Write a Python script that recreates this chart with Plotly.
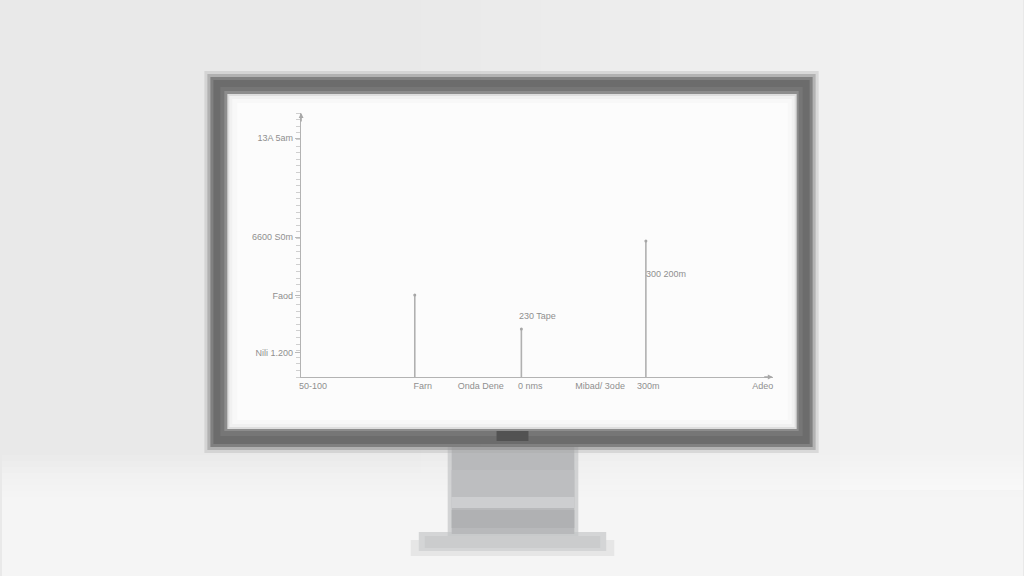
import plotly.graph_objects as go

# chart values
stem_x = [2.41, 4.67, 7.31]
stem_y = [31.1, 18.2, 51.5]

ytick_vals = [90.5, 53.0, 30.7, 9.1]
ytick_text = ["13A 5am", "6600 S0m", "Faod", "Nili 1.200"]

xtick_vals = [0.25, 2.58, 3.81, 4.86, 6.34, 7.36, 9.79]
xtick_text = ["50-100", "Farn", "Onda Dene", "0 nms", "Mibad/ 3ode", "300m", "Adeo"]

note_x = [5.01, 7.74]
note_y = [23.1, 39.0]
note_text = ["230 Tape", "300 200m"]

W, H = 1024, 576


def px_rect(x0, y0, x1, y1, color, opacity=1.0):
    # rectangle given in screen pixels, turned into paper fractions
    return dict(type="rect", xref="paper", yref="paper",
                x0=x0 / W, x1=x1 / W, y0=1 - y1 / H, y1=1 - y0 / H,
                fillcolor=color, opacity=opacity, line_width=0, layer="below")


shapes = []
# room background: soft steps lighter to the right, white floor
for i, x0 in enumerate(range(420, 1024, 60)):
    shapes.append(px_rect(x0, 0, 1024, 490, "#ffffff", 0.07))
for i, y0 in enumerate(range(455, 500, 6)):
    shapes.append(px_rect(0, y0, 1024, 576, "#ffffff", 0.12))

shapes += [
    # stand base + shadow
    px_rect(410, 540, 614, 556, "#e2e2e2", 0.8),
    px_rect(418, 532, 606, 551, "#d4d5d6"),
    px_rect(424, 536, 600, 548, "#cbcccd"),
    # stand neck
    px_rect(447, 446, 578, 536, "#c3c4c6", 0.7),
    px_rect(451, 446, 574, 534, "#b8b9bb"),
    px_rect(451, 470, 574, 497, "#bdbec0"),
    px_rect(451, 497, 574, 508, "#cdced0"),
    px_rect(451, 510, 574, 528, "#b0b1b3"),
    # bezel, soft edges
    px_rect(203, 71, 819, 453, "#a5a5a5", 0.3),
    px_rect(206, 74, 816, 450, "#8e8e8e", 0.5),
    px_rect(209, 77, 813, 447, "#787878", 0.85),
    px_rect(212, 80, 810, 444, "#6c6c6c"),
    px_rect(219, 87, 803, 436, "#767676"),
    px_rect(223, 91, 799, 431, "#8d8d8d"),
    # notch under the screen
    px_rect(496, 431, 528, 441, "#525252"),
    # screen
    px_rect(226, 94, 797, 429, "#dedede"),
    px_rect(228, 96, 795, 427, "#f1f1f1"),
    px_rect(231, 99, 792, 424, "#f8f8f8"),
    px_rect(236, 103, 788, 420, "#fcfcfc"),
]

# stems from the baseline up to each value
line_x, line_y = [], []
for sx, sy in zip(stem_x, stem_y):
    line_x += [sx, sx, None]
    line_y += [0, sy, None]

fig = go.Figure()
fig.add_trace(go.Scatter(x=line_x, y=line_y, mode="lines",
                         line=dict(color="#b0b0b0", width=1.6),
                         hoverinfo="skip", showlegend=False))
fig.add_trace(go.Scatter(x=stem_x, y=stem_y, mode="markers",
                         marker=dict(color="#a6a6a6", size=3),
                         hoverinfo="skip", showlegend=False))

font_col = "#8f8f8f"
tick_font = dict(family="Liberation Sans, Arial, sans-serif", size=9, color=font_col)

annotations = []
for nx, ny, nt in zip(note_x, note_y, note_text):
    annotations.append(dict(x=nx, y=ny, xref="x", yref="y", text=nt,
                            showarrow=False, font=tick_font))
# arrow heads at the ends of both axes
annotations.append(dict(x=0, y=100, xref="x", yref="y", ax=0, ay=10, text="",
                        showarrow=True, arrowhead=2, arrowsize=0.7,
                        arrowwidth=1.4, arrowcolor="#a8a8a8"))
annotations.append(dict(x=10, y=0, xref="x", yref="y", ax=-10, ay=0, text="",
                        showarrow=True, arrowhead=2, arrowsize=0.7,
                        arrowwidth=1.4, arrowcolor="#a8a8a8"))

fig.update_layout(
    width=W, height=H,
    margin=dict(l=0, r=0, t=0, b=0),
    paper_bgcolor="#e9e9e9",
    plot_bgcolor="rgba(0,0,0,0)",
    shapes=shapes,
    annotations=annotations,
    xaxis=dict(domain=[300 / W, 773 / W], range=[0, 10],
               showgrid=False, zeroline=False,
               showline=True, linecolor="#b3b3b3", linewidth=1.4,
               tickmode="array", tickvals=xtick_vals, ticktext=xtick_text,
               ticks="", tickfont=tick_font, fixedrange=True),
    yaxis=dict(domain=[1 - 377 / H, 1 - 113 / H], range=[0, 100],
               showgrid=False, zeroline=False,
               showline=True, linecolor="#b3b3b3", linewidth=1.4,
               tickmode="array", tickvals=ytick_vals, ticktext=ytick_text,
               ticks="outside", ticklen=5, tickcolor="#bababa",
               minor=dict(tickmode="linear", tick0=0, dtick=2.5,
                          ticks="outside", ticklen=4, tickcolor="#cfcfcf"),
               tickfont=tick_font, fixedrange=True),
)

# the page has a default body margin; drop it so the figure fills the window
fig.write_html("out.html", config={"displayModeBar": False},
               post_script="document.body.style.margin='0';document.body.style.overflow='hidden';")
